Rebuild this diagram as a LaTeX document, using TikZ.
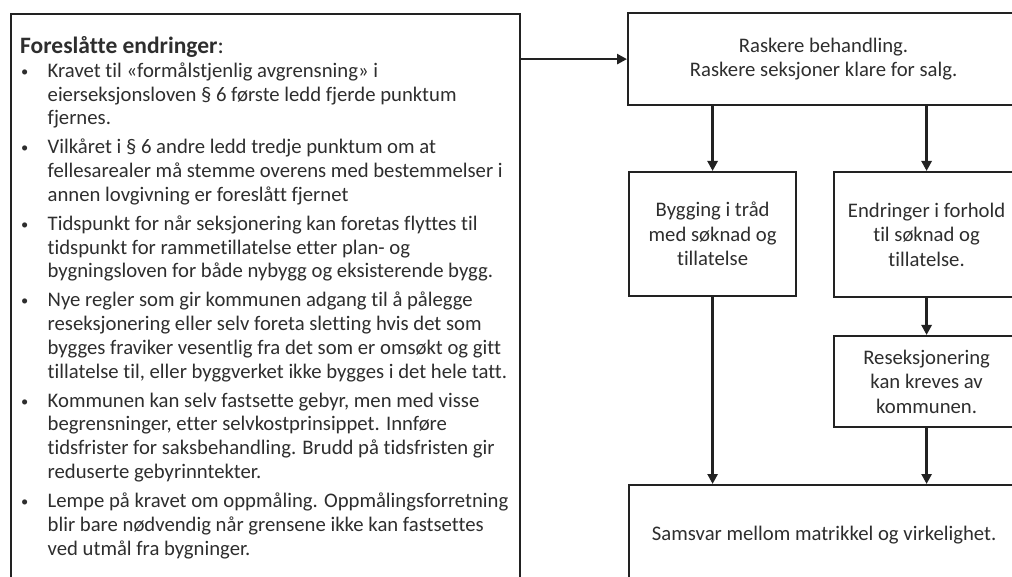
\documentclass[tikz,border=0pt]{standalone}
\usepackage{fontspec}
\setmainfont{Carlito}[Ligatures=NoCommon]
\usetikzlibrary{arrows.meta,positioning}
\definecolor{strek}{HTML}{222222}
\definecolor{skrift}{HTML}{2E2E2E}
\newcommand{\punkt}{\makebox[27.5pt][l]{\hspace{1pt}\raisebox{1pt}{\scalebox{0.7}{\textbullet}}}}
\newcommand{\innrykk}{\hspace*{27.5pt}}
\begin{document}
\begin{tikzpicture}[x=1pt,y=-1pt,
        boks/.style={draw=strek, line width=2.2pt, text=skrift, align=center, inner sep=0pt,
            anchor=north west, font=\fontsize{20.7}{24.5}\selectfont},
        pil/.style={draw=strek, line width=2.6pt, -{Triangle[length=10pt,width=10pt]}}]
    \clip (0,0) rectangle (1012,577);
    \fill[white] (0,0) rectangle (1012,577);
    \node[boks, minimum width=509pt, minimum height=640pt] (forslag) at (10,13) {};
    \node[below right=23pt and 10pt of forslag.north west, align=left, inner sep=0pt, text=skrift,
        font=\fontsize{20.7}{23.9}\selectfont] (liste)
        {{\fontsize{23.5}{24}\selectfont\bfseries Foreslåtte endringer}{\fontsize{23.5}{24}\selectfont:}\\
        \punkt Kravet til «formålstjenlig avgrensning» i\\
        \innrykk eierseksjonsloven § 6 første ledd fjerde punktum\\
        \innrykk fjernes.\\[4.8pt]
        \punkt Vilkåret i § 6 andre ledd tredje punktum om at\\
        \innrykk fellesarealer må stemme overens med bestemmelser i\\
        \innrykk annen lovgivning er foreslått fjernet\\[4.8pt]
        \punkt Tidspunkt for når seksjonering kan foretas flyttes til\\
        \innrykk tidspunkt for rammetillatelse etter plan- og\\
        \innrykk bygningsloven for både nybygg og eksisterende bygg.\\[4.8pt]
        \punkt Nye regler som gir kommunen adgang til å pålegge\\
        \innrykk reseksjonering eller selv foreta sletting hvis det som\\
        \innrykk bygges fraviker vesentlig fra det som er omsøkt og gitt\\
        \innrykk tillatelse til, eller byggverket ikke bygges i det hele tatt.\\[4.8pt]
        \punkt Kommunen kan selv fastsette gebyr, men med visse\\
        \innrykk begrensninger, etter selvkostprinsippet. Innføre\\
        \innrykk tidsfrister for saksbehandling. Brudd på tidsfristen gir\\
        \innrykk reduserte gebyrinntekter.\\[4.8pt]
        \punkt Lempe på kravet om oppmåling. Oppmålingsforretning\\
        \innrykk blir bare nødvendig når grensene ikke kan fastsettes\\
        \innrykk ved utmål fra bygninger.};
    \node[boks, minimum width=391pt, minimum height=92pt] (raskere) at (627,12)
        {Raskere behandling.\\Raskere seksjoner klare for salg.};
    \node[boks, minimum width=167pt, minimum height=124pt] (bygging) at (628,171)
        {Bygging i tråd\\med søknad og\\tillatelse};
    \node[boks, minimum width=185pt, minimum height=125pt] (endringer) at (833,171)
        {Endringer i forhold\\til søknad og\\tillatelse.};
    \node[boks, minimum width=185pt, minimum height=91pt] (reseksjon) at (833,335)
        {Reseksjonering\\kan kreves av\\kommunen.};
    \node[boks, minimum width=390pt, minimum height=100pt] (samsvar) at (628,484)
        {Samsvar mellom matrikkel og virkelighet.};
    \draw[pil] (forslag.east |- raskere.west) -- (raskere.west);
    \draw[pil] (raskere.south -| bygging.north) -- (bygging.north);
    \draw[pil] (raskere.south -| endringer.north) -- (endringer.north);
    \draw[pil] (bygging.south) -- (bygging.south |- samsvar.north);
    \draw[pil] (endringer.south) -- (reseksjon.north);
    \draw[pil] (reseksjon.south) -- (reseksjon.south |- samsvar.north);
\end{tikzpicture}
\end{document}
